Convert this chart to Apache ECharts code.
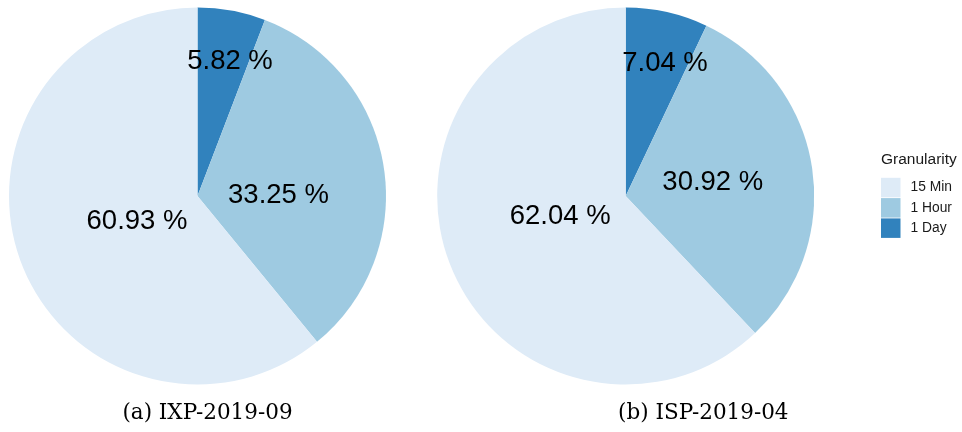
<!DOCTYPE html>
<html>
<head>
<meta charset="utf-8">
<script src="https://cdn.jsdelivr.net/npm/echarts@6/dist/echarts.min.js"></script>
<style>
html,body{margin:0;padding:0;background:#fff;}
#chart{width:962px;height:432px;}
</style>
</head>
<body>
<div id="chart"></div>
<script>
// Data
const categories = ['15 Min', '1 Hour', '1 Day'];
const ixpValues = { '15 Min': 60.93, '1 Hour': 33.25, '1 Day': 5.82 };
const ispValues = { '15 Min': 62.04, '1 Hour': 30.92, '1 Day': 7.04 };
const captions = ['(a) IXP-2019-09', '(b) ISP-2019-04'];
const legendTitle = 'Granularity';

// Styles / layout
const colors = { '15 Min': '#deebf7', '1 Hour': '#9ecae1', '1 Day': '#3182bd' };
const sliceOrder = ['1 Day', '1 Hour', '15 Min']; // clockwise from 12 o'clock
const pieCenters = [[197.5, 196], [625.7, 196]];
const pieRadius = 188.5;
// label placement offsets from pie centre (dx, dy) per slice in sliceOrder
const labelOffsets = [
  [[32.5, -134.3], [81, -0.3], [-60.5, 25.7]],
  [[39.3, -132.7], [87.1, -13.3], [-65.5, 20.7]]
];
const captionPos = [[207.5, 413], [703.3, 413]];

function buildData(vals) {
  return sliceOrder.map(c => ({ name: c, value: vals[c], itemStyle: { color: colors[c] } }));
}

function makeSeries(vals, idx) {
  return {
    type: 'pie',
    center: pieCenters[idx],
    radius: pieRadius,
    startAngle: 90,
    clockwise: true,
    silent: true,
    animation: false,
    itemStyle: { borderWidth: 0 },
    label: {
      show: true,
      position: 'inside',
      formatter: p => p.value.toFixed(2) + ' %',
      fontFamily: '"Liberation Sans", Arial, sans-serif',
      fontSize: 27.5,
      color: '#000'
    },
    labelLine: { show: false },
    labelLayout: function (params) {
      const off = labelOffsets[idx][params.dataIndex];
      return {
        x: pieCenters[idx][0] + off[0],
        y: pieCenters[idx][1] + off[1],
        align: 'center',
        verticalAlign: 'middle'
      };
    },
    emphasis: { disabled: true },
    data: buildData(vals)
  };
}

const chart = echarts.init(document.getElementById('chart'), null, { renderer: 'canvas' });
chart.setOption({
  backgroundColor: '#fff',
  animation: false,
  legend: {
    data: categories,
    orient: 'vertical',
    left: 881,
    top: 177.8,
    padding: 0,
    itemWidth: 19.5,
    itemHeight: 19.5,
    itemGap: 0.8,
    icon: 'rect',
    selectedMode: false,
    textStyle: {
      fontFamily: '"Liberation Sans", Arial, sans-serif',
      fontSize: 13.8,
      color: '#1a1a1a',
      padding: [0, 0, 0, 5]
    }
  },
  graphic: [
    {
      type: 'text', left: 881, top: 152,
      style: { text: legendTitle, font: '15.5px "Liberation Sans", Arial, sans-serif', fill: '#1a1a1a' }
    },
    ...captions.map((t, i) => ({
      type: 'text',
      x: captionPos[i][0], y: captionPos[i][1],
      style: {
        text: t,
        font: '21.5px "DejaVu Serif", serif',
        fill: '#000',
        textAlign: 'center',
        textVerticalAlign: 'middle'
      }
    }))
  ],
  series: [makeSeries(ixpValues, 0), makeSeries(ispValues, 1)]
});
</script>
</body>
</html>
